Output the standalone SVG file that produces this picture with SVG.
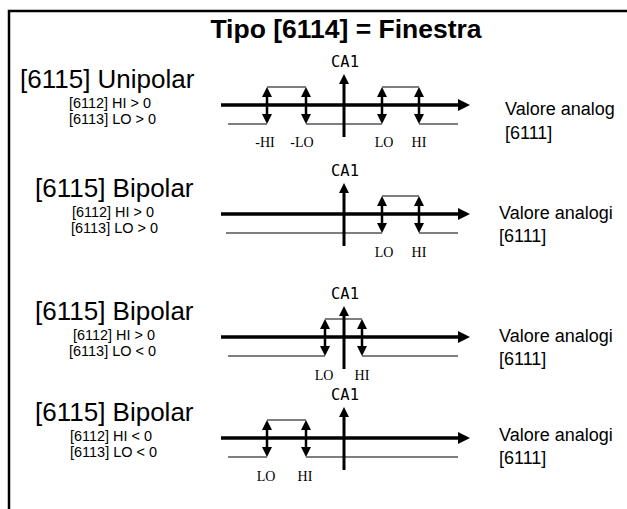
<svg xmlns="http://www.w3.org/2000/svg" width="627" height="509" viewBox="0 0 627 509">
<style>
.frame{fill:none;stroke:#000;stroke-width:2.5}
.axis{stroke:#000;stroke-width:3.5}
.ca{stroke:#000;stroke-width:3}
.dbl{stroke:#000;stroke-width:2.5}
.thin{fill:none;stroke:#000;stroke-width:1.2}
.title{font-family:"Liberation Sans",Arial,sans-serif;font-weight:bold;font-size:26.5px;text-anchor:middle}
.main{font-family:"Liberation Sans",Arial,sans-serif;font-size:26px}
.sub{font-family:"Liberation Sans",Arial,sans-serif;font-size:14.5px}
.right{font-family:"Liberation Sans",Arial,sans-serif;font-size:18px}
.ca1{font-family:"DejaVu Sans Mono","Liberation Mono",monospace;font-size:15.5px;text-anchor:middle}
.lbl{font-family:"Liberation Serif","Times New Roman",serif;font-size:14px;text-anchor:middle}
</style>
<defs>
<marker id="hv" viewBox="0 0 10 10" refX="1" refY="5" markerWidth="10" markerHeight="10" markerUnits="userSpaceOnUse" orient="auto-start-reverse"><path d="M0,0 L10,5 L0,10 z" fill="#000"/></marker>
<marker id="ha" viewBox="0 0 12 12" refX="1" refY="6" markerWidth="12" markerHeight="12" markerUnits="userSpaceOnUse" orient="auto"><path d="M0,0 L12,6 L0,12 z" fill="#000"/></marker>
</defs>
<rect width="627" height="509" fill="#fff"/>
<path class="frame" d="M9,509 V11 H628"/>
<text class="title" x="346" y="38">Tipo [6114] = Finestra</text>

<g id="panel1">
<text class="main" x="20" y="88">[6115] Unipolar</text>
<text class="sub" x="69" y="107.5" textLength="82" lengthAdjust="spacingAndGlyphs">[6112] HI &gt; 0</text>
<text class="sub" x="69" y="124" textLength="87" lengthAdjust="spacingAndGlyphs">[6113] LO &gt; 0</text>
<text class="right" x="505" y="115">Valore analog</text>
<text class="right" x="505" y="139">[6111]</text>
<text class="ca1" x="345" y="67">CA1</text>
<g class="connectors">
<line class="axis" x1="221" y1="105" x2="459" y2="105" marker-end="url(#ha)"/>
<path class="thin" d="M228,124 H267 M267,87 H306 M306,124 H382 M382,87 H419 M419,124 H458"/>
<line class="ca" x1="344" y1="137" x2="344" y2="83" marker-end="url(#hv)"/>
<line class="dbl" x1="267" y1="96" x2="267" y2="115" marker-start="url(#hv)" marker-end="url(#hv)"/>
<line class="dbl" x1="306" y1="96" x2="306" y2="115" marker-start="url(#hv)" marker-end="url(#hv)"/>
<line class="dbl" x1="382" y1="96" x2="382" y2="115" marker-start="url(#hv)" marker-end="url(#hv)"/>
<line class="dbl" x1="419" y1="96" x2="419" y2="115" marker-start="url(#hv)" marker-end="url(#hv)"/>
</g>
<text class="lbl" x="265" y="147">-HI</text>
<text class="lbl" x="302" y="147">-LO</text>
<text class="lbl" x="384" y="147">LO</text>
<text class="lbl" x="419" y="147">HI</text>
</g>

<g id="panel2" transform="translate(0,109)">
<text class="main" x="35" y="88">[6115] Bipolar</text>
<text class="sub" x="72" y="107.5" textLength="82" lengthAdjust="spacingAndGlyphs">[6112] HI &gt; 0</text>
<text class="sub" x="71" y="124" textLength="87" lengthAdjust="spacingAndGlyphs">[6113] LO &gt; 0</text>
<text class="right" x="499" y="110">Valore analogi</text>
<text class="right" x="499" y="133">[6111]</text>
<text class="ca1" x="345" y="67">CA1</text>
<g class="connectors">
<line class="axis" x1="221" y1="105" x2="459" y2="105" marker-end="url(#ha)"/>
<path class="thin" d="M226,124 H382 M382,87 H419 M419,124 H458"/>
<line class="ca" x1="344" y1="137" x2="344" y2="83" marker-end="url(#hv)"/>
<line class="dbl" x1="382" y1="96" x2="382" y2="115" marker-start="url(#hv)" marker-end="url(#hv)"/>
<line class="dbl" x1="419" y1="96" x2="419" y2="115" marker-start="url(#hv)" marker-end="url(#hv)"/>
</g>
<text class="lbl" x="384" y="148">LO</text>
<text class="lbl" x="419" y="148">HI</text>
</g>

<g id="panel3" transform="translate(0,232)">
<text class="main" x="35" y="88">[6115] Bipolar</text>
<text class="sub" x="73" y="107.5" textLength="82" lengthAdjust="spacingAndGlyphs">[6112] HI &gt; 0</text>
<text class="sub" x="69" y="124" textLength="87" lengthAdjust="spacingAndGlyphs">[6113] LO &lt; 0</text>
<text class="right" x="499" y="110">Valore analogi</text>
<text class="right" x="499" y="133">[6111]</text>
<text class="ca1" x="345" y="67">CA1</text>
<g class="connectors">
<line class="axis" x1="221" y1="105" x2="459" y2="105" marker-end="url(#ha)"/>
<path class="thin" d="M228,124 H325 M325,87 H362 M362,124 H458"/>
<line class="ca" x1="344" y1="137" x2="344" y2="83" marker-end="url(#hv)"/>
<line class="dbl" x1="325" y1="96" x2="325" y2="115" marker-start="url(#hv)" marker-end="url(#hv)"/>
<line class="dbl" x1="362" y1="96" x2="362" y2="115" marker-start="url(#hv)" marker-end="url(#hv)"/>
</g>
<text class="lbl" x="324" y="148">LO</text>
<text class="lbl" x="362" y="148">HI</text>
</g>

<g id="panel4" transform="translate(0,333)">
<text class="main" x="35" y="88">[6115] Bipolar</text>
<text class="sub" x="70" y="107.5" textLength="82" lengthAdjust="spacingAndGlyphs">[6112] HI &lt; 0</text>
<text class="sub" x="70" y="124" textLength="87" lengthAdjust="spacingAndGlyphs">[6113] LO &lt; 0</text>
<text class="right" x="499" y="108">Valore analogi</text>
<text class="right" x="499" y="131">[6111]</text>
<text class="ca1" x="345" y="67">CA1</text>
<g class="connectors">
<line class="axis" x1="221" y1="105" x2="459" y2="105" marker-end="url(#ha)"/>
<path class="thin" d="M228,124 H267 M267,87 H306 M306,124 H458"/>
<line class="ca" x1="344" y1="137" x2="344" y2="83" marker-end="url(#hv)"/>
<line class="dbl" x1="267" y1="96" x2="267" y2="115" marker-start="url(#hv)" marker-end="url(#hv)"/>
<line class="dbl" x1="306" y1="96" x2="306" y2="115" marker-start="url(#hv)" marker-end="url(#hv)"/>
</g>
<text class="lbl" x="266" y="148">LO</text>
<text class="lbl" x="305" y="148">HI</text>
</g>
</svg>
